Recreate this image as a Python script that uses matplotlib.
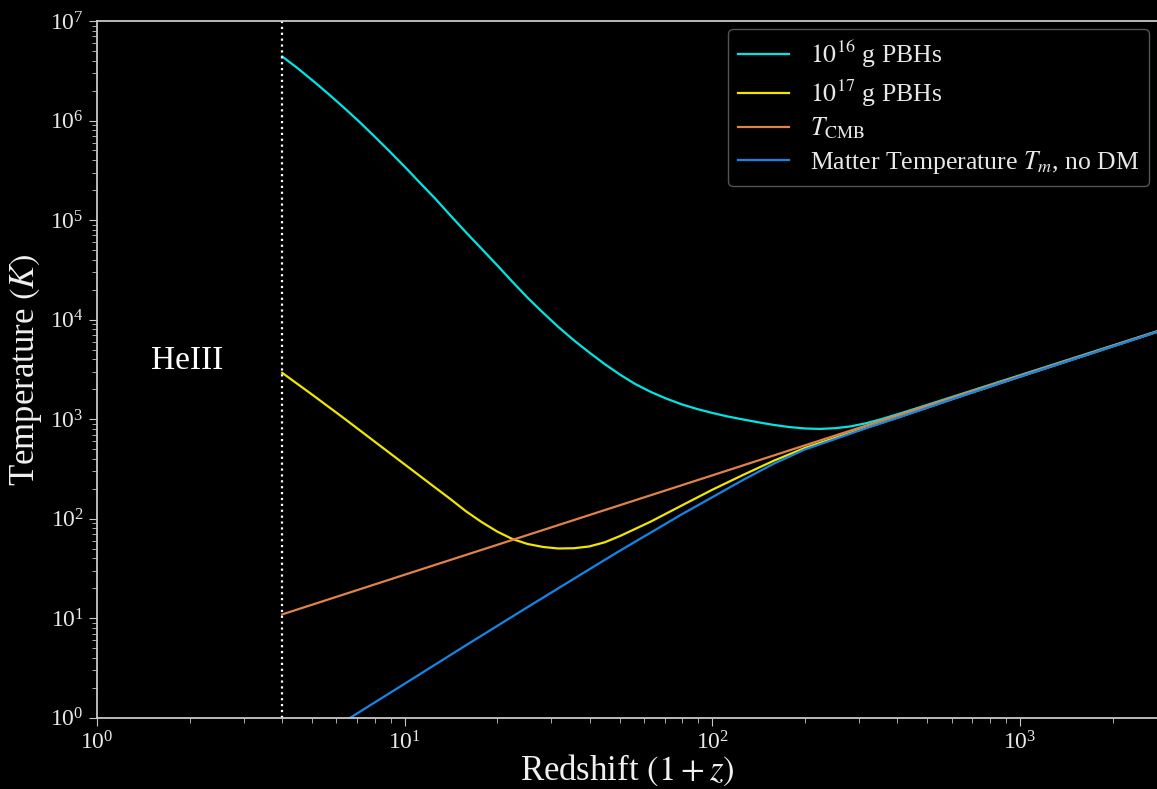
import matplotlib
matplotlib.use("Agg")
import matplotlib.pyplot as plt

# values (1+z, temperature in K)
z_pbh16 = [4.0, 4.47, 5.01, 5.62, 6.31, 7.08, 7.94, 8.91, 10, 11.2, 12.6, 14.1, 15.8, 17.8,
           20.0, 22.4, 25.1, 28.2, 31.6, 35.5, 39.8, 44.7, 50.1, 56.2, 63.1, 70.8, 79.4,
           89.1, 100, 112, 126, 141, 158, 178, 200, 224, 251, 282, 316, 355, 398, 447,
           501, 631, 1000, 2790]
T_pbh16 = [4.40e6, 3.39e6, 2.54e6, 1.88e6, 1.37e6, 9.89e5, 7.03e5, 4.95e5, 3.44e5, 2.38e5,
           1.63e5, 1.11e5, 7.57e4, 5.14e4, 3.51e4, 2.40e4, 1.66e4, 1.17e4, 8.43e3, 6.19e3,
           4.68e3, 3.57e3, 2.80e3, 2.25e3, 1875, 1610, 1410, 1265, 1153, 1064, 991, 929,
           875, 832, 805, 797, 810, 845, 908, 1000, 1114, 1245, 1393, 1750, 2760, 7620]

z_pbh17 = [4.0, 5.01, 6.31, 7.94, 10, 12.6, 14.1, 15.8, 17.8, 20.0, 22.4, 25.1, 28.2,
           31.6, 35.5, 39.8, 44.7, 50.1, 63.1, 79.4, 100, 126, 158, 200, 251, 316, 398,
           501, 631, 1000, 2790]
T_pbh17 = [2917, 1758, 1035, 603, 351, 204, 157, 119, 92.3, 74.1, 62.4, 55.6, 51.9,
           50.1, 50.4, 52.5, 57.8, 66.8, 93.3, 135, 195, 275, 380, 513, 649, 817, 1030,
           1309, 1667, 2667, 7516]

z_cmb = [4.0, 10, 100, 1000, 2790]
T_cmb = [10.9, 27.3, 272, 2725, 7600]

z_nodm = [4.0, 6.73, 10, 15.8, 25.1, 39.8, 50.1, 63.1, 79.4, 100, 126, 158, 200, 251,
          316, 398, 501, 631, 1000, 2790]
T_nodm = [0.372, 1.02, 2.19, 5.32, 12.9, 30.9, 47.6, 72.4, 110, 164, 245, 355, 495, 631,
          809, 1023, 1303, 1660, 2661, 7499]

z_heiii = 4.0

plt.style.use('dark_background')
plt.rcParams['font.family'] = ['Liberation Serif', 'DejaVu Serif']
plt.rcParams['mathtext.fontset'] = 'stix'

fig = plt.figure(figsize=(11.57, 7.89), dpi=100)
ax = fig.add_axes([0.0838, 0.0904, 0.9162, 0.883])

ax.plot(z_pbh16, T_pbh16, color='#00e5e5', lw=1.6, label=r'$10^{16}$ g PBHs')
ax.plot(z_pbh17, T_pbh17, color='#f0e600', lw=1.6, label=r'$10^{17}$ g PBHs')
ax.plot(z_cmb, T_cmb, color='#e0824a', lw=1.6, label=r'$T_{\rm CMB}$')
ax.plot(z_nodm, T_nodm, color='#1585e6', lw=1.6, label=r'Matter Temperature $T_m$, no DM')
ax.axvline(z_heiii, color='white', ls=':', lw=1.6)
ax.text(1.96, 3.9e3, 'HeIII', fontsize=24, color='white', ha='center', va='center')

ax.set_xscale('log')
ax.set_yscale('log')
ax.set_xlim(1, 2790)
ax.set_ylim(1, 1e7)

for s in ['left', 'bottom', 'top']:
    ax.spines[s].set_color('#c8c8c8')
    ax.spines[s].set_linewidth(1.3)
ax.spines['right'].set_visible(False)
ax.tick_params(which='both', colors='#c8c8c8', labelcolor='#e8e8e8', labelsize=17)
ax.tick_params(which='major', length=6)
ax.tick_params(which='minor', length=3.5)

ax.set_xlabel(r'Redshift $(1+z)$', fontsize=25, color='#f0f0f0', labelpad=-1)
ax.set_ylabel(r'Temperature $(K)$', fontsize=25, color='#f0f0f0', labelpad=4)

leg = ax.legend(loc='upper right', fontsize=18.5, handlelength=2.0, facecolor='black',
                edgecolor='#555555', framealpha=1, borderaxespad=0.3, labelspacing=0.28)
for t in leg.get_texts():
    t.set_color('#e8e8e8')

fig.savefig('out.png', dpi=100, facecolor='black')
